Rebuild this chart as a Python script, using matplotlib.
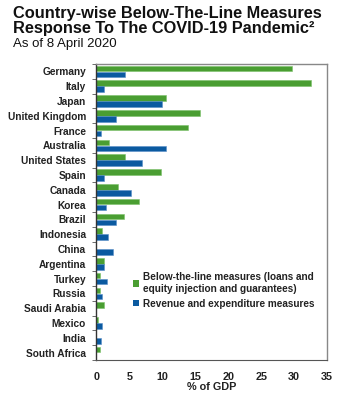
import matplotlib
matplotlib.use("Agg")
import matplotlib.pyplot as plt
import numpy as np
from matplotlib.patches import Patch

countries = ["Germany", "Italy", "Japan", "United Kingdom", "France", "Australia",
             "United States", "Spain", "Canada", "Korea", "Brazil", "Indonesia",
             "China", "Argentina", "Turkey", "Russia", "Saudi Arabia", "Mexico",
             "India", "South Africa"]
below_line = [29.6, 32.5, 10.5, 15.7, 13.9, 1.9, 4.25, 9.8, 3.3, 6.4, 4.15, 0.9,
              0.0, 1.2, 0.5, 0.5, 1.2, 0.3, 0.0, 0.6]
revenue_exp = [4.35, 1.2, 10.0, 3.0, 0.7, 10.6, 6.9, 1.2, 5.2, 1.5, 2.9, 1.7,
               2.5, 1.15, 1.6, 0.8, 0.0, 0.8, 0.7, 0.0]
xticks = [0, 5, 10, 15, 20, 25, 30, 35]

green = "#4A9E32"
blue = "#0B5AA0"

plt.rcParams['font.family'] = ['Liberation Sans', 'DejaVu Sans']

fig = plt.figure(figsize=(3.6, 4.0), dpi=100)
ax = fig.add_axes([0.268, 0.1, 0.641, 0.74])

n = len(countries)
y = np.arange(n)
h = 0.37
ax.barh(y - h / 2 - 0.02, below_line, height=h, color=green, edgecolor="#7CC06A", linewidth=0.4)
ax.barh(y + h / 2 + 0.02, revenue_exp, height=h, color=blue, edgecolor="#5A8FC8", linewidth=0.4)

ax.set_ylim(n - 0.5, -0.5)
ax.set_xlim(0, 35)
ax.set_yticks(y)
ax.set_yticklabels(countries, fontsize=7.3, fontweight="bold", color="#222222")
ax.tick_params(axis="y", length=0, pad=7.5)
ax.set_yticks(np.arange(n + 1) - 0.5, minor=True)
ax.tick_params(axis="y", which="minor", length=3, width=0.6, color="#555555")
ax.set_xticks(xticks)
ax.set_xticklabels([str(t) for t in xticks], fontsize=7.8, fontweight="bold", color="#222222")
ax.tick_params(axis="x", length=0, pad=9)
ax.set_xlabel("% of GDP", fontsize=7.8, fontweight="bold", color="#222222", labelpad=0)

for s in ["top", "right"]:
    ax.spines[s].set_color("#888888")
    ax.spines[s].set_linewidth(1.0)
ax.spines["left"].set_color("#333333")
ax.spines["left"].set_linewidth(1.0)
ax.spines["bottom"].set_color("#555555")

handles = [Patch(facecolor=green, label="Below-the-line measures (loans and\nequity injection and guarantees)"),
           Patch(facecolor=blue, label="Revenue and expenditure measures")]
leg = ax.legend(handles=handles, loc="upper left", bbox_to_anchor=(0.142, 0.31),
                frameon=False, fontsize=7.2, handlelength=0.6, handleheight=0.6,
                handletextpad=0.4, labelspacing=0.5, borderaxespad=0)
for t in leg.get_texts():
    t.set_fontweight("bold")
    t.set_color("#222222")

fig.text(0.035, 0.985, "Country-wise Below-The-Line Measures\nResponse To The COVID-19 Pandemic\u00b2",
         fontsize=11.8, fontweight="bold", va="top", ha="left", linespacing=1.0, color="#111111")
fig.text(0.035, 0.905, "As of 8 April 2020", fontsize=9.5, va="top", ha="left", color="#111111")

fig.savefig("out.png", dpi=100)
